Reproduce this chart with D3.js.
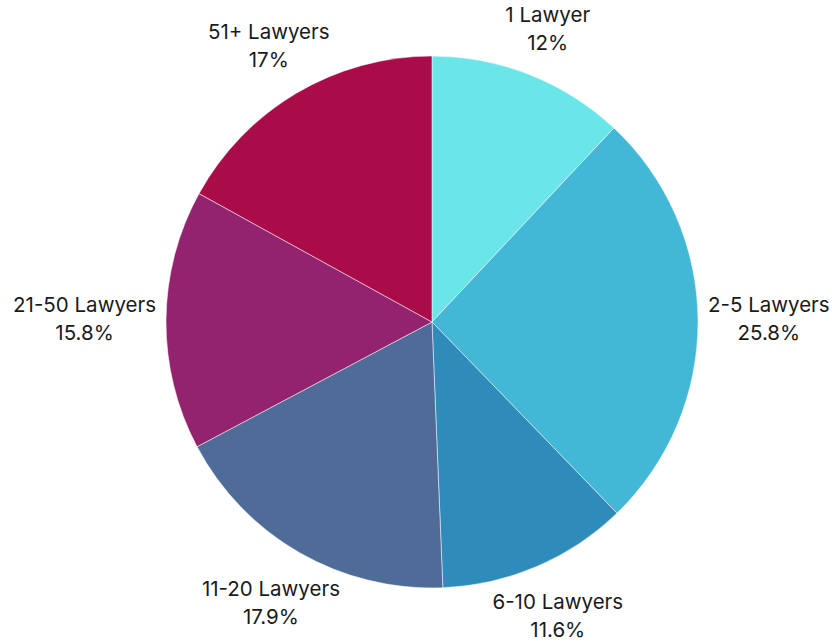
<!DOCTYPE html>
<html>
<head>
<meta charset="utf-8">
<script src="https://cdn.jsdelivr.net/npm/d3@7"></script>
<style>
  html, body { margin: 0; padding: 0; background: #fff; }
  svg { display: block; }
</style>
</head>
<body>
<svg id="chart" width="832" height="643"></svg>
<script>
// ── Data ──
const categories = ["1 Lawyer", "2-5 Lawyers", "6-10 Lawyers", "11-20 Lawyers", "21-50 Lawyers", "51+ Lawyers"];
const shares = [12, 25.8, 11.6, 17.9, 15.8, 17];
const colors = ["#6ae5e8", "#43b7d6", "#2e8bba", "#4f6c99", "#93236f", "#aa0c4a"];

const cx = 432, cy = 322, R = 266;

const svg = d3.select("#chart");
const g = svg.append("g").attr("transform", `translate(${cx},${cy})`);

const data = categories.map((name, i) => ({ name, value: shares[i], color: colors[i] }));

const pie = d3.pie().value((d) => d.value).sort(null);
const arc = d3.arc().innerRadius(0).outerRadius(R);
const arcs = pie(data);

// ── Slices ──
g.selectAll("path.slice")
  .data(arcs)
  .join("path")
  .attr("class", "slice")
  .attr("d", arc)
  .attr("fill", (d) => d.data.color)
  .attr("stroke", "#fff")
  .attr("stroke-width", 0.5);

// ── Labels: two-line block pushed out along the mid-angle ──
const gap = 10, halfH = 38, lineH = 28;

arcs.forEach((a) => {
  const mid = (a.startAngle + a.endAngle) / 2;
  const sx = Math.sin(mid), sy = -Math.cos(mid);

  const t = g.append("text")
    .attr("font-family", "Inter, 'Noto Sans', sans-serif")
    .attr("font-size", "20.5px")
    .attr("fill", "#1a1a1a")
    .attr("text-anchor", "middle");
  t.append("tspan").attr("x", 0).attr("dy", 0).text(a.data.name);
  t.append("tspan").attr("x", 0).attr("dy", lineH).text(`${a.data.value}%`);

  const halfW = t.node().getBBox().width / 2;
  const reach = Math.hypot(halfW * sx, halfH * sy);
  const d = R + gap + reach;
  const lx = d * sx, ly = d * sy;
  t.attr("transform", `translate(${lx},${ly - lineH / 2 + 7})`);
});
</script>
</body>
</html>
